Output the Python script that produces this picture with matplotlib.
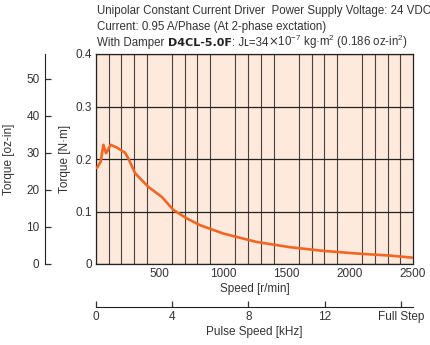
import matplotlib
matplotlib.use("Agg")
import matplotlib.pyplot as plt

# speed [r/min] vs pull-out torque [N·m]
speed = [0, 10, 37, 58, 79, 116, 163, 229, 255, 308, 412, 518, 610, 715, 820,
         1004, 1267, 1530, 1793, 2056, 2319, 2500]
torque = [0.183, 0.184, 0.195, 0.227, 0.211, 0.227, 0.222, 0.212, 0.201, 0.173,
          0.147, 0.128, 0.103, 0.087, 0.074, 0.058, 0.042, 0.032, 0.025, 0.020,
          0.016, 0.012]

speed_ticks = [500, 1000, 1500, 2000, 2500]
torque_ticks = [0, 0.1, 0.2, 0.3, 0.4]
oz_ticks = [0, 10, 20, 30, 40, 50]
pulse_ticks = [0, 4, 8, 12, 16]
pulse_labels = ["0", "4", "8", "12", "Full Step"]

NM_TO_OZIN = 141.6
RPM_TO_KHZ = 16.63 / 2500

FONT = ["Liberation Sans Narrow", "Liberation Sans", "DejaVu Sans"]
plt.rcParams["font.family"] = FONT
plt.rcParams["mathtext.fontset"] = "custom"
plt.rcParams["mathtext.rm"] = "Liberation Sans Narrow"
TXT = "#333333"
FS = 8.5
HFS = 8.3

fig = plt.figure(figsize=(4.3, 3.45), dpi=100)
ax = fig.add_axes([96 / 430, 81 / 345, 317 / 430, 210 / 345])
ax.set_facecolor("#fdeadc")

ax.plot(speed, torque, color="#f26522", lw=1.9, zorder=3, solid_joinstyle="round")

ax.set_xlim(0, 2500)
ax.set_ylim(0, 0.4)
ax.set_xticks(speed_ticks)
ax.set_xticks(range(0, 2501, 100), minor=True)
ax.set_yticks(torque_ticks)
ax.set_yticklabels(["0", "0.1", "0.2", "0.3", "0.4"])
ax.tick_params(axis="both", which="both", length=0, labelsize=FS, colors=TXT, pad=3)
ax.grid(True, which="minor", axis="x", color="#4a403c", lw=0.8)
ax.grid(True, which="major", axis="y", color="#222222", lw=0.9)
for s in ax.spines.values():
    s.set_color("#222222")
    s.set_linewidth(0.9)

ax.set_xlabel("Speed [r/min]", fontsize=FS, color=TXT, labelpad=2)
ax.set_ylabel("Torque [N·m]", fontsize=FS, color=TXT, labelpad=3)

# oz-in scale on the far left
oz = ax.secondary_yaxis((45 - 96) / 317, functions=(lambda t: t * NM_TO_OZIN,
                                                    lambda o: o / NM_TO_OZIN))
oz.set_yticks(oz_ticks)
oz.tick_params(direction="in", length=4, width=0.9, labelsize=FS, colors=TXT, pad=4)
oz.spines["left"].set_color("#222222")
oz.set_ylabel("Torque [oz-in]", fontsize=FS, color=TXT, labelpad=8)

# pulse speed scale below
ps = ax.secondary_xaxis((264 - 307) / 210, functions=(lambda r: r * RPM_TO_KHZ,
                                                      lambda k: k / RPM_TO_KHZ))
ps.set_xticks(pulse_ticks)
ps.set_xticklabels(pulse_labels)
ps.tick_params(direction="in", length=4, width=0.9, labelsize=FS, colors=TXT, pad=3)
ps.spines["bottom"].set_color("#222222")
ps.set_xlabel("Pulse Speed [kHz]", fontsize=FS, color=TXT, labelpad=2)

# header lines
x0 = 97 / 430
fig.text(x0, 1 - 11 / 345, "Unipolar Constant Current Driver  Power Supply Voltage: 24 VDC",
         fontsize=HFS, color=TXT, va="center")
fig.text(x0, 1 - 27 / 345, "Current: 0.95 A/Phase (At 2-phase exctation)",
         fontsize=HFS, color=TXT, va="center")

renderer = fig.canvas.get_renderer()
y3 = 1 - 46 / 345
t1 = fig.text(x0, y3, "With Damper ", fontsize=HFS, color=TXT, va="baseline")
w1 = t1.get_window_extent(renderer).width / fig.bbox.width
t2 = fig.text(x0 + w1, y3, "D4CL-5.0F", fontsize=8, color="#222222",
              fontweight="bold", family=["DejaVu Sans"], va="baseline")
w2 = t2.get_window_extent(renderer).width / fig.bbox.width
t3 = fig.text(x0 + w1 + w2, y3, ": Jʟ=34", fontsize=HFS, color=TXT, va="baseline")
w3 = t3.get_window_extent(renderer).width / fig.bbox.width
fig.text(x0 + w1 + w2 + w3, y3,
         r"$\times$10$^{\mathregular{-7}}$ kg·m$^{\mathregular{2}}$ (0.186 oz-in$^{\mathregular{2}}$)",
         fontsize=HFS, color=TXT, va="baseline")

fig.savefig("out.png", dpi=100)
